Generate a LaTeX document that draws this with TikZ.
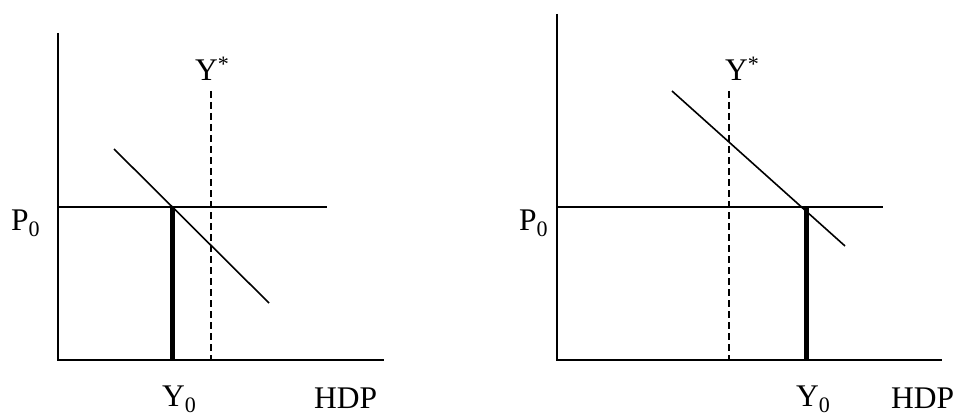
\documentclass[tikz,border=0pt]{standalone}
\usepackage{fontspec}
\setmainfont{Liberation Serif}
\usetikzlibrary{positioning}
\tikzset{
  axisline/.style={line width=2pt},
  demandline/.style={line width=1.6pt},
  outputbar/.style={line width=5pt},
  potential/.style={line width=1.5pt,dash pattern=on 7pt off 4pt},
  lbl/.style={inner sep=0pt,anchor=base west,font=\fontsize{31.5}{38}\selectfont}
}

\begin{document}
\begin{tikzpicture}[x=1pt,y=-1pt]
  \useasboundingbox (0,0) rectangle (958,417);
  % left chart: Y0 below Y*
  \coordinate (L-top) at (58,33);
  \coordinate (L-o) at (58,360);
  \coordinate (L-end) at (384,360);
  \coordinate (L-p) at (58,207);
  \coordinate (L-pend) at (327,207);
  \coordinate (L-y0) at (172,207);
  \coordinate (L-y0b) at (172,360);
  \coordinate (L-ys) at (211,91);
  \coordinate (L-ysb) at (211,360);
  \coordinate (L-d1) at (114,149);
  \coordinate (L-d2) at (269,303);
  \draw[axisline] (L-top) -- (L-o) -- (L-end);
  \draw[axisline] (L-p) -- (L-pend);
  \draw[potential] (L-ys) -- (L-ysb);
  \draw[demandline] (L-d1) -- (L-d2);
  \draw[outputbar] (L-y0) -- (L-y0b);
  \node[lbl] (L-P0) at (11,230) {P\textsubscript{0}};
  \node[lbl] (L-Ystar) at (195,81) {Y\textsuperscript{*}};
  \node[lbl] (L-Y0) at (162,406) {Y\textsubscript{0}};
  \node[lbl] (L-HDP) at (314,408) {HDP};
  % right chart: Y0 above Y*
  \coordinate (R-top) at (557,14);
  \coordinate (R-o) at (557,360);
  \coordinate (R-end) at (942,360);
  \coordinate (R-p) at (557,207);
  \coordinate (R-pend) at (883,207);
  \coordinate (R-y0) at (806,207);
  \coordinate (R-y0b) at (806,360);
  \coordinate (R-ys) at (729,91);
  \coordinate (R-ysb) at (729,360);
  \coordinate (R-d1) at (672,91);
  \coordinate (R-d2) at (845,246);
  \draw[axisline] (R-top) -- (R-o) -- (R-end);
  \draw[axisline] (R-p) -- (R-pend);
  \draw[potential] (R-ys) -- (R-ysb);
  \draw[demandline] (R-d1) -- (R-d2);
  \draw[outputbar] (R-y0) -- (R-y0b);
  \node[lbl] (R-P0) at (519,230) {P\textsubscript{0}};
  \node[lbl] (R-Ystar) at (725,81) {Y\textsuperscript{*}};
  \node[lbl] (R-Y0) at (796,406) {Y\textsubscript{0}};
  \node[lbl] (R-HDP) at (891,408) {HDP};
\end{tikzpicture}
\end{document}
